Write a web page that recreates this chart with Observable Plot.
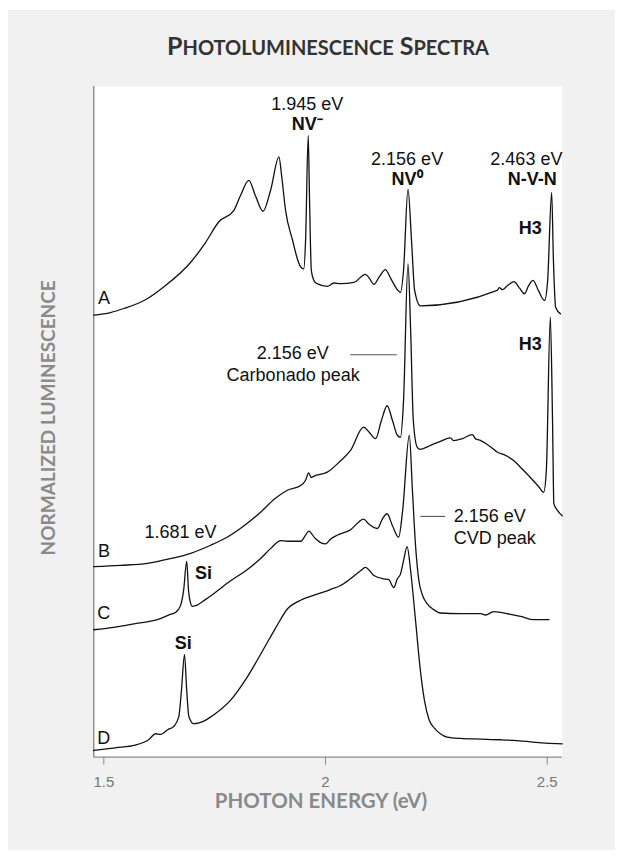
<!DOCTYPE html>
<html>
<head>
<meta charset="utf-8">
<script src="https://cdn.jsdelivr.net/npm/d3@7"></script>
<script src="https://cdn.jsdelivr.net/npm/@observablehq/plot@0.6"></script>
<style>
  html, body { margin: 0; padding: 0; background: #ffffff; }
  #wrap { position: relative; width: 623px; height: 859px; overflow: hidden; }
  #panel { position: absolute; left: 8px; top: 10px; width: 607px; height: 840px; background: #f1f1f1; }
  #chart { position: absolute; left: 0; top: 0; }
  #title { position: absolute; left: 0; width: 656px; top: 33px; text-align: center;
           font-family: Lato, 'Open Sans', sans-serif; font-weight: bold; color: #333;
           font-size: 25px; line-height: 25px; white-space: nowrap; }
  #title .sc { font-size: 20px; }
</style>
</head>
<body>
<div id="wrap"><div id="panel"></div><div id="chart"></div>
<div id="title"></div></div>
<script>
// ---- Texts ----
const titleParts = [["P", "HOTOLUMINESCENCE"], ["S", "PECTRA"]];
const xTitle = "PHOTON ENERGY (eV)";
const yTitle = "NORMALIZED LUMINESCENCE";
const xTicks = [1.5, 2, 2.5];
const xTickLabels = ["1.5", "2", "2.5"];

// ---- Spectrum A ----
const energyA = [1.477,1.515,1.545,1.594,1.635,1.696,1.729,1.759,1.793,1.808,1.827,1.842,1.859,1.876,1.895,1.901,1.910,1.926,1.939,1.944,1.951,1.955,1.961,1.964,1.968,1.973,1.981,2.004,2.019,2.034,2.064,2.090,2.099,2.109,2.122,2.135,2.147,2.162,2.169,2.176,2.186,2.194,2.201,2.214,2.387,2.392,2.399,2.410,2.425,2.438,2.449,2.458,2.468,2.480,2.494,2.501,2.510,2.514,2.519,2.530];
const lumA    = [65.9,66.3,66.9,68.2,70.1,73.8,76.7,79.8,81.5,83.7,86.0,83.7,81.4,84.5,89.5,86.7,81.5,77.0,73.8,73.1,72.8,77.0,92.7,83.0,72.6,71.2,70.6,70.2,70.7,70.6,70.8,72.0,71.4,70.5,71.7,72.7,71.4,69.7,69.3,72.6,84.7,77.0,69.6,67.3,69.6,70.0,69.7,70.3,70.9,69.9,69.1,70.3,71.1,69.6,68.1,71.1,84.2,74.1,67.1,66.1];

// ---- Spectrum B ----
const energyB = [1.477,1.538,1.598,1.650,1.696,1.741,1.778,1.820,1.853,1.887,1.914,1.944,1.955,1.962,1.968,1.974,2.004,2.034,2.056,2.086,2.099,2.113,2.126,2.139,2.151,2.162,2.169,2.176,2.186,2.192,2.198,2.207,2.214,2.237,2.259,2.282,2.289,2.309,2.331,2.338,2.350,2.372,2.387,2.406,2.425,2.440,2.462,2.480,2.492,2.498,2.507,2.512,2.515,2.523,2.534];
const lumB    = [28.4,28.6,28.9,29.6,30.4,31.6,32.8,34.7,36.5,38.6,39.8,40.5,41.3,42.4,41.7,41.9,42.5,44.2,45.7,49.2,48.4,47.5,50.2,52.4,50.2,48.0,47.7,53.2,73.6,63.6,50.2,46.2,45.9,46.5,47.1,47.6,47.2,47.5,48.1,47.5,47.2,46.3,45.5,45.0,44.2,43.2,41.7,40.4,39.5,42.7,65.6,50.2,37.8,36.8,36.0];

// ---- Spectrum C ----
const energyC = [1.477,1.526,1.571,1.624,1.650,1.662,1.673,1.680,1.687,1.691,1.696,1.699,1.707,1.729,1.752,1.786,1.820,1.853,1.876,1.899,1.914,1.944,1.955,1.962,1.977,1.989,2.000,2.011,2.026,2.056,2.086,2.097,2.117,2.129,2.139,2.151,2.165,2.174,2.189,2.196,2.203,2.210,2.219,2.229,2.244,2.259,2.304,2.350,2.361,2.379,2.395,2.417,2.440,2.470,2.485,2.504];
const lumC    = [19.0,19.4,19.9,20.6,21.3,21.6,22.6,24.9,29.2,24.9,22.9,22.5,22.6,23.5,24.6,26.3,27.8,29.6,31.1,32.3,32.2,32.2,33.1,33.7,32.6,32.0,31.8,32.5,33.1,33.9,35.5,34.8,34.1,35.6,36.3,34.5,32.8,36.8,48.0,39.8,31.6,26.6,24.1,22.9,22.0,21.5,21.4,21.4,21.2,21.7,21.6,21.3,21.0,20.5,20.5,20.5];

// ---- Spectrum D ----
const energyD = [1.477,1.526,1.571,1.601,1.617,1.628,1.644,1.658,1.669,1.675,1.682,1.687,1.692,1.703,1.729,1.752,1.786,1.823,1.861,1.887,1.914,1.944,1.981,2.011,2.034,2.056,2.079,2.090,2.109,2.131,2.142,2.154,2.162,2.169,2.176,2.184,2.192,2.203,2.214,2.223,2.233,2.246,2.259,2.274,2.304,2.350,2.395,2.425,2.462,2.496,2.534];
const lumD    = [1.0,1.4,1.8,2.6,3.5,3.4,4.1,4.6,6.0,9.9,15.3,9.9,6.0,5.0,5.5,6.5,8.5,11.9,16.2,19.2,22.1,23.4,24.3,25.0,25.6,26.6,27.8,28.3,27.1,26.6,26.5,25.3,26.6,27.3,29.3,31.4,27.8,20.4,12.9,8.5,5.7,4.3,3.5,3.0,2.8,2.7,2.6,2.5,2.3,2.1,2.0];

// ---- Annotations ----
const noteText  = ["1.945 eV","2.156 eV","2.463 eV","2.156 eV","Carbonado peak","1.681 eV","A","B","C","D"];
const noteX     = [1.959,2.184,2.453,1.926,1.927,1.673,1.5005,1.5005,1.5,1.5];
const noteY     = [97.4,89.2,89.2,60.2,56.9,33.5,68.4,30.7,21.4,2.9];
const boldText  = ["NV\u207B","NV\u2070","N-V-N","H3","H3","Si","Si"];
const boldX     = [1.959,2.184,2.466,2.462,2.462,1.725,1.679];
const boldY     = [94.4,86.1,86.1,78.8,61.6,27.4,17.0];
const cvdText   = ["2.156 eV","CVD peak"];
const cvdX      = [2.289,2.289];
const cvdY      = [35.9,32.6];
const leaderX1  = [2.056,2.214];
const leaderX2  = [2.161,2.270];
const leaderY   = [60.0,35.9];

// ---- Build tables ----
const series = [
  ["A", energyA, lumA], ["B", energyB, lumB], ["C", energyC, lumC], ["D", energyD, lumD]
];
const spectra = series.flatMap(([name, xs, ys]) => xs.map((x, i) => ({name, energy: x, lum: ys[i]})));
const notes = noteText.map((t, i) => ({t, x: noteX[i], y: noteY[i]}));
const bolds = boldText.map((t, i) => ({t, x: boldX[i], y: boldY[i]}));
const cvd = cvdText.map((t, i) => ({t, x: cvdX[i], y: cvdY[i]}));
const leaders = leaderY.map((y, i) => ({x1: leaderX1[i], x2: leaderX2[i], y}));

// title (small caps built from two sizes)
const titleEl = document.getElementById("title");
titleParts.forEach(([big, rest], i) => {
  if (i) titleEl.appendChild(document.createTextNode(" "));
  titleEl.appendChild(document.createTextNode(big));
  const s = document.createElement("span");
  s.className = "sc";
  s.textContent = rest;
  titleEl.appendChild(s);
});

const xMin = 1.4774, xMax = 2.5338;
const sans = "'Liberation Sans', Arial, Helvetica, sans-serif";
const head = "Lato, 'Open Sans', sans-serif";

const plot = Plot.plot({
  width: 623,
  height: 859,
  marginLeft: 93.3,
  marginRight: 61.3,
  marginTop: 86,
  marginBottom: 102.3,
  style: {background: "transparent", overflow: "visible"},
  x: {domain: [xMin, xMax], axis: null},
  y: {domain: [0, 100], axis: null},
  marks: [
    Plot.frame({fill: "white", stroke: null}),
    Plot.ruleY([0], {stroke: "#8a8a8a", strokeWidth: 1.2}),
    Plot.ruleX([xMin], {stroke: "#777", strokeWidth: 1.2}),
    Plot.axisX({ticks: xTicks, tickFormat: (d) => xTickLabels[xTicks.indexOf(d)], tickSize: 8, tickPadding: 11,
                stroke: "#8a8a8a", fill: "#777", fontSize: 15, fontFamily: sans, label: null}),
    Plot.line(spectra, {x: "energy", y: "lum", z: "name", stroke: "#111", strokeWidth: 1.3, curve: "monotone-x"}),
    Plot.link(leaders, {x1: "x1", x2: "x2", y1: "y", y2: "y", stroke: "#555", strokeWidth: 1.1}),
    Plot.text(notes, {x: "x", y: "y", text: "t", fontSize: 18, fontFamily: sans, fill: "#111"}),
    Plot.text(bolds, {x: "x", y: "y", text: "t", fontSize: 18, fontWeight: "bold", fontFamily: sans, fill: "#111"}),
    Plot.text(cvd, {x: "x", y: "y", text: "t", textAnchor: "start", fontSize: 18, fontFamily: sans, fill: "#111"}),
    Plot.text([yTitle], {text: d => d, frameAnchor: "left", textAnchor: "middle", dx: -45, dy: -4, rotate: -90,
               fontSize: 19, fontWeight: "bold", fontFamily: head, fill: "#8a8a8a"}),
    Plot.text([xTitle], {text: d => d, frameAnchor: "bottom", dy: 51, dx: -7,
               fontSize: 20.5, fontWeight: "bold", fontFamily: head, fill: "#8a8a8a"})
  ]
});
document.getElementById("chart").appendChild(plot);
</script>
</body>
</html>
